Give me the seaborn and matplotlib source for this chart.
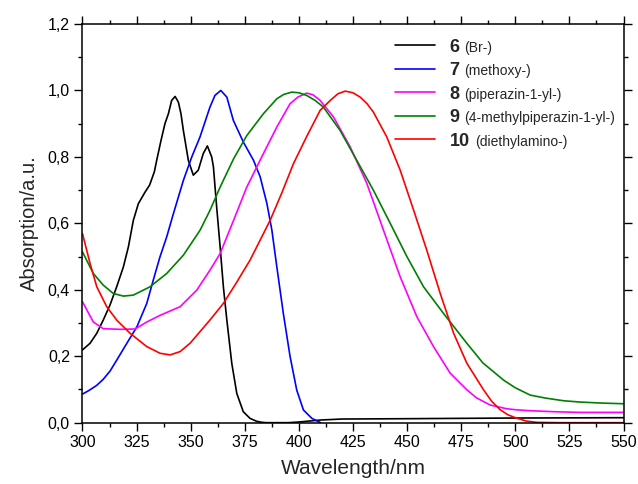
import pandas as pd
import matplotlib.pyplot as plt
import seaborn as sns
from matplotlib.ticker import MultipleLocator, FuncFormatter

# Spektrum verileri
wl_6 = [300, 303.5, 306.6, 309.6, 312.7, 315.8, 318.9, 321.2, 323.5, 325.8, 328.9, 331,
        333.2, 334.3, 336.3, 338.1, 339.7, 341.2, 342.8, 344.3, 345.5, 346.6, 348.9, 351.2,
        353.5, 355.8, 357.7, 359.7, 360.5, 362, 363.6, 365.1, 366.7, 369, 371.3, 374.3,
        377.4, 380.5, 383, 385, 395, 400, 405, 410, 420, 450, 500, 550]
abs_6 = [0.219, 0.239, 0.269, 0.309, 0.354, 0.409, 0.469, 0.529, 0.609, 0.659, 0.694, 0.715,
         0.755, 0.79, 0.85, 0.90, 0.93, 0.97, 0.982, 0.965, 0.93, 0.88, 0.79, 0.745,
         0.76, 0.81, 0.833, 0.80, 0.77, 0.649, 0.529, 0.409, 0.309, 0.178, 0.088, 0.033,
         0.013, 0.004, 0.001, 0.0, 0.0, 0.002, 0.005, 0.008, 0.011, 0.012, 0.014, 0.015]

wl_7 = [300, 303, 306.5, 309.5, 312.7, 315.8, 320.4, 325.1, 329.7, 332.7, 335.8, 338.9, 342,
        346.6, 350.5, 354.3, 358.9, 361.2, 363.9, 366.7, 369.7, 374.3, 379, 382.1, 385.2,
        387.5, 389.8, 392.8, 395.9, 399, 402.1, 406, 410]
abs_7 = [0.086, 0.097, 0.112, 0.13, 0.155, 0.188, 0.238, 0.288, 0.359, 0.429, 0.499, 0.559,
         0.629, 0.729, 0.80, 0.86, 0.95, 0.985, 1.0, 0.98, 0.91, 0.845, 0.79, 0.74, 0.66,
         0.58, 0.469, 0.329, 0.20, 0.098, 0.038, 0.013, 0.0]

wl_8 = [300, 305, 309.6, 317.3, 324.3, 329.7, 335.8, 345.1, 352.8, 358.9, 363.6, 369.8,
        375.9, 383.6, 389.8, 395.9, 399.5, 403.6, 406.5, 409.8, 416, 423.7, 431.4, 439.1,
        446.8, 454.5, 462.2, 469.9, 477.6, 482, 488.4, 496, 500, 506.9, 518, 530, 550]
abs_8 = [0.364, 0.303, 0.283, 0.281, 0.282, 0.303, 0.323, 0.349, 0.399, 0.459, 0.509, 0.609,
         0.709, 0.81, 0.89, 0.96, 0.98, 0.992, 0.987, 0.97, 0.92, 0.83, 0.72, 0.579, 0.439,
         0.319, 0.229, 0.149, 0.099, 0.075, 0.053, 0.042, 0.039, 0.036, 0.033, 0.031, 0.031]

wl_9 = [300, 305, 309.6, 314.2, 318.9, 323.5, 331.2, 338.9, 346.6, 354.3, 358.9, 363.6,
        369.8, 375.9, 383.6, 389.8, 393, 396.7, 400, 403.6, 407.5, 411.3, 419, 426.7, 434.4,
        442.2, 449.9, 457.6, 466.8, 477.6, 485, 494.6, 500, 506.9, 514, 522.3, 530, 540, 550]
abs_9 = [0.514, 0.449, 0.414, 0.389, 0.381, 0.384, 0.409, 0.449, 0.504, 0.579, 0.639, 0.709,
         0.794, 0.864, 0.93, 0.975, 0.988, 0.995, 0.993, 0.985, 0.97, 0.95, 0.88, 0.79, 0.70,
         0.60, 0.50, 0.409, 0.329, 0.239, 0.18, 0.128, 0.105, 0.083, 0.074, 0.066, 0.062,
         0.059, 0.057]

wl_10 = [300, 303.5, 306.6, 311.2, 315.8, 322, 329.7, 335.8, 340.5, 345.1, 349.7, 354.3,
         358.9, 365.1, 371, 377.4, 386.7, 392, 397.5, 403.5, 409.8, 414.5, 418, 421.4, 425,
         428.3, 431.5, 434.4, 440.6, 446.8, 453, 459.1, 465.3, 471.5, 477.6, 485.3, 489, 493,
         496.5, 500, 505, 510, 520, 550]
abs_10 = [0.569, 0.479, 0.409, 0.349, 0.309, 0.269, 0.229, 0.209, 0.204, 0.214, 0.239, 0.274,
          0.309, 0.359, 0.42, 0.489, 0.609, 0.69, 0.78, 0.86, 0.94, 0.97, 0.99, 0.998, 0.993,
          0.98, 0.96, 0.935, 0.86, 0.76, 0.64, 0.519, 0.389, 0.269, 0.179, 0.099, 0.065, 0.039,
          0.024, 0.015, 0.005, 0.001, 0.0, 0.0]

compounds = ['6', '7', '8', '9', '10']
substituents = ['(Br-)', '(methoxy-)', '(piperazin-1-yl-)', '(4-methylpiperazin-1-yl-)',
                '(diethylamino-)']
colors = ['#000000', '#0000ff', '#ff00ff', '#008000', '#ff0000']

series = [(wl_6, abs_6), (wl_7, abs_7), (wl_8, abs_8), (wl_9, abs_9), (wl_10, abs_10)]
frames = []
for name, (wl, ab) in zip(compounds, series):
    frames.append(pd.DataFrame({'Wavelength': wl, 'Absorption': ab, 'Compound': name}))
df = pd.concat(frames, ignore_index=True)

sns.set_style('ticks')
plt.rcParams['font.family'] = ['Liberation Sans', 'DejaVu Sans']

fig = plt.figure(figsize=(6.38, 4.84), dpi=100)
ax = fig.add_axes([0.1293, 0.1267, 0.848, 0.8237])

sns.lineplot(data=df, x='Wavelength', y='Absorption', hue='Compound', hue_order=compounds,
             palette=colors, sort=False, estimator=None, linewidth=1.2, legend=False, ax=ax)

ax.set_xlim(300, 550)
ax.set_ylim(0, 1.2)
ax.xaxis.set_major_locator(MultipleLocator(25))
ax.xaxis.set_minor_locator(MultipleLocator(12.5))
ax.yaxis.set_major_locator(MultipleLocator(0.2))
ax.yaxis.set_minor_locator(MultipleLocator(0.1))
ax.yaxis.set_major_formatter(FuncFormatter(lambda v, p: f'{v:.1f}'.replace('.', ',')))

for s in ax.spines.values():
    s.set_visible(True)
    s.set_linewidth(1.1)
    s.set_color('black')
ax.tick_params(which='both', direction='out', top=True, right=True, color='black', width=1.0,
               labelsize=11.5, labelcolor='black', pad=3)
ax.tick_params(which='major', length=6)
ax.tick_params(which='minor', length=3)

ax.set_xlabel('Wavelength/nm', fontsize=15, labelpad=6)
ax.set_ylabel('Absorption/a.u.', fontsize=14.5, labelpad=6)

handles = ax.get_lines()[:5]
leg = ax.legend(handles, compounds, loc='upper left', bbox_to_anchor=(0.555, 0.995),
                frameon=False, prop={'weight': 'bold', 'size': 13},
                handlelength=2.2, handletextpad=0.8, labelspacing=0.36, borderpad=0.2)

# Parantez içindeki açıklamalar, kalın numaraların hemen sağına
fig.canvas.draw()
renderer = fig.canvas.get_renderer()
inv = ax.transAxes.inverted()
for txt, sub in zip(leg.get_texts(), substituents):
    bb = txt.get_window_extent(renderer)
    x0, y0 = inv.transform((bb.x1 + 5, bb.y0 + 1))
    ax.text(x0, y0, sub, transform=ax.transAxes, va='bottom', ha='left', fontsize=10)

fig.savefig('out.png', dpi=100)
